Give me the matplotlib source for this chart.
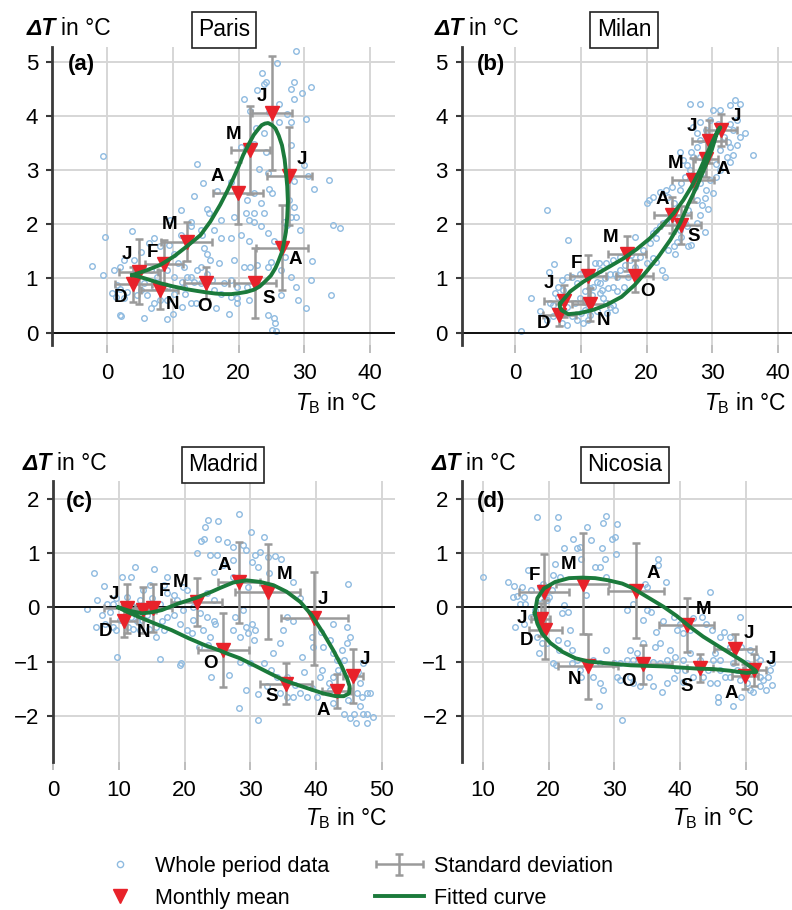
import numpy as np
import matplotlib.pyplot as plt
from matplotlib.lines import Line2D
from matplotlib.container import ErrorbarContainer
from matplotlib.legend_handler import HandlerErrorbar

plt.rcParams['font.family'] = ['Liberation Sans', 'DejaVu Sans']
plt.rcParams['mathtext.fontset'] = 'custom'
plt.rcParams['mathtext.rm'] = 'Liberation Sans'
plt.rcParams['mathtext.it'] = 'Liberation Sans:italic'
plt.rcParams['mathtext.bf'] = 'Liberation Sans:bold'

months = ['J', 'F', 'M', 'A', 'M', 'J', 'J', 'A', 'S', 'O', 'N', 'D']

# ---------------- Paris ----------------
paris_mean_tb = [4.8, 8.7, 12.1, 19.9, 21.8, 25.1, 27.7, 26.6, 22.5, 15.1, 8.0, 4.0]
paris_mean_dt = [1.12, 1.26, 1.68, 2.58, 3.37, 4.05, 2.89, 1.57, 0.91, 0.92, 0.79, 0.89]
paris_sd_tb = [3.0, 2.9, 3.9, 3.8, 3.0, 3.0, 3.4, 4.0, 3.2, 3.4, 2.8, 2.8]
paris_sd_dt = [0.6, 0.45, 0.36, 0.57, 0.82, 1.05, 0.9, 0.78, 0.65, 0.3, 0.36, 0.32]
paris_fit = [(3.8, 1.06), (6.0, 1.15), (8.1, 1.25), (10.2, 1.41), (12.1, 1.59), (14.2, 1.8),
             (15.7, 2.05), (17.2, 2.36), (18.3, 2.62), (19.2, 2.85), (20.0, 3.07), (20.7, 3.28),
             (21.5, 3.47), (22.3, 3.65), (23.0, 3.76), (23.5, 3.83), (24.0, 3.86), (24.5, 3.87),
             (25.1, 3.83), (25.6, 3.77), (26.1, 3.64), (26.6, 3.46), (27.0, 3.2), (27.2, 2.97),
             (27.4, 2.7), (27.5, 2.42), (27.4, 2.14), (27.2, 1.86), (26.9, 1.66), (26.6, 1.49),
             (26.1, 1.33), (25.6, 1.19), (24.9, 1.05), (24.0, 0.94), (23.2, 0.85), (22.3, 0.79),
             (21.2, 0.75), (20.2, 0.73), (18.9, 0.71), (17.7, 0.71), (16.5, 0.72), (15.2, 0.74),
             (13.6, 0.77), (12.1, 0.8), (10.1, 0.85), (8.1, 0.91), (6.0, 0.99), (4.6, 1.04), (3.8, 1.06)]
paris_data = [
    (-0.7, 3.27), (-0.3, 1.77), (-2.3, 1.23), (-0.6, 1.06), (3.7, 1.88), (5.6, 0.26), (1.9, 0.33), (2.1, 0.31),
    (9.1, 0.25), (18.5, 0.34), (28.8, 5.2), (25.9, 4.97), (23.5, 4.8), (23.9, 4.6), (24.1, 4.63), (28.4, 4.63),
    (27.9, 4.5), (28.4, 4.32), (29.7, 4.43), (31.0, 4.53), (22.8, 4.48), (20.8, 4.31), (21.8, 4.1), (26.1, 4.23),
    (24.6, 4.08), (27.4, 4.04), (28.0, 3.89), (30.2, 3.94), (26.1, 3.89), (22.6, 3.77), (23.9, 3.68), (20.3, 3.43),
    (22.3, 3.49), (24.1, 3.34), (27.9, 3.46), (23.1, 3.03), (13.7, 3.12), (14.6, 2.76), (13.2, 2.52), (24.4, 2.94),
    (30.5, 2.9), (31.5, 2.66), (33.8, 2.82), (28.4, 2.8), (16.7, 2.62), (18.8, 2.78), (24.6, 2.66), (21.3, 2.45),
    (22.3, 2.57), (23.4, 2.4), (25.1, 2.57), (28.4, 2.32), (27.6, 2.45), (27.9, 2.14), (28.7, 2.14), (21.1, 2.2),
    (22.3, 2.2), (23.9, 2.2), (21.6, 2.08), (22.3, 2.05), (19.3, 2.14), (17.3, 2.08), (15.5, 2.2), (15.2, 2.29),
    (11.2, 2.26), (12.7, 2.05), (14.2, 1.9), (16.2, 1.9), (18.8, 1.75), (17.3, 1.75), (20.3, 1.81), (21.6, 1.69),
    (23.4, 1.96), (24.4, 1.84), (34.3, 1.99), (35.5, 1.93), (27.4, 1.99), (26.9, 2.05), (25.4, 1.7), (9.6, 2.08),
    (11.2, 1.81), (12.7, 1.96), (14.5, 1.81), (14.7, 1.56), (15.2, 1.46), (15.7, 1.34), (17.0, 1.28), (19.3, 1.34),
    (20.8, 1.22), (21.8, 1.22), (22.8, 1.25), (24.4, 1.22), (24.9, 1.31), (26.4, 1.16), (27.9, 1.03), (31.2, 1.32),
    (31.0, 0.97), (28.7, 0.84), (29.1, 0.6), (30.2, 0.46), (34.0, 0.69), (25.4, 0.26), (25.6, 0.18), (25.1, 0.05),
    (25.7, 0.03), (24.4, 0.32), (21.6, 0.6), (19.8, 0.54), (19.8, 0.63), (18.8, 0.66), (16.2, 0.79), (17.3, 0.72),
    (14.2, 1.22), (13.7, 1.16), (12.7, 1.03), (11.7, 0.85), (11.9, 0.72), (10.2, 0.72), (12.7, 0.54), (11.4, 0.48),
    (9.1, 0.6), (8.1, 0.6), (7.1, 0.54), (6.1, 0.69), (5.1, 0.78), (3.0, 0.75), (1.5, 0.88), (0.8, 0.73),
    (1.3, 0.66), (2.5, 0.63), (1.0, 1.15), (2.0, 1.22), (2.5, 1.34), (4.1, 1.34), (5.1, 1.49), (6.3, 1.65),
    (7.1, 1.74), (8.1, 1.59), (9.4, 1.62), (10.2, 1.46), (10.7, 1.28), (11.7, 1.22), (9.1, 1.16), (7.6, 1.03),
    (6.6, 1.16), (10.2, 1.03), (11.4, 0.94), (12.2, 1.03), (13.2, 0.94), (14.2, 0.91), (15.2, 1.09), (16.0, 0.97),
    (17.8, 0.91), (18.8, 0.97), (19.8, 0.85), (21.3, 0.85), (7.1, 0.85), (5.6, 0.91), (3.6, 0.97), (9.1, 0.85),
    (4.6, 0.7), (2.0, 0.8), (6.6, 0.45), (10.0, 0.35), (13.5, 0.55), (16.5, 0.45), (26.4, 0.7), (27.0, 1.4),
    (29.3, 1.9), (30.0, 3.1)]

# ---------------- Milan ----------------
milan_mean_tb = [7.4, 11.1, 17.0, 23.9, 27.0, 29.5, 31.3, 29.1, 25.2, 18.2, 11.4, 6.7]
milan_mean_dt = [0.58, 1.04, 1.46, 2.17, 2.82, 3.53, 3.74, 3.21, 1.99, 1.04, 0.52, 0.33]
milan_sd_tb = [3.0, 2.8, 2.9, 2.8, 3.2, 2.6, 2.4, 1.8, 3.0, 2.8, 2.7, 2.5]
milan_sd_dt = [0.3, 0.4, 0.32, 0.33, 0.4, 0.4, 0.3, 0.33, 0.35, 0.3, 0.3, 0.2]
milan_fit = [(6.9, 0.54), (8.4, 0.76), (10.4, 0.94), (12.4, 1.08), (14.4, 1.22), (16.5, 1.37), (18.5, 1.54),
             (20.5, 1.74), (22.3, 1.96), (24.1, 2.2), (25.6, 2.45), (26.8, 2.69), (28.1, 3.0), (29.1, 3.28),
             (30.1, 3.55), (30.9, 3.75), (31.2, 3.79), (30.6, 3.65), (29.9, 3.37), (28.9, 3.06), (27.6, 2.69),
             (26.3, 2.36), (25.1, 2.02), (23.6, 1.71), (21.8, 1.4), (20.0, 1.13), (18.2, 0.88), (16.2, 0.66),
             (13.9, 0.51), (11.9, 0.42), (9.9, 0.36), (8.1, 0.34), (7.1, 0.41), (6.8, 0.48), (6.9, 0.54)]
milan_data = [
    (0.9, 0.02), (2.4, 0.63), (4.8, 2.26), (8.0, 1.71), (5.1, 1.11), (5.9, 1.27), (3.8, 0.39), (4.8, 0.23),
    (5.3, 0.54), (6.1, 0.73), (6.6, 0.85), (7.3, 0.79), (7.9, 0.48), (8.6, 0.3), (9.4, 0.23), (10.1, 0.36),
    (10.6, 0.42), (11.1, 0.23), (7.9, 0.14), (7.1, 0.17), (5.8, 0.3), (10.9, 0.54), (11.7, 0.69), (11.9, 0.85),
    (12.4, 0.94), (12.9, 0.91), (13.2, 0.79), (13.4, 0.63), (13.9, 0.54), (14.4, 0.48), (15.2, 0.42), (14.9, 0.51),
    (12.7, 1.28), (12.2, 1.28), (13.7, 1.0), (14.4, 1.09), (15.2, 1.09), (15.5, 1.03), (16.0, 1.16), (16.7, 1.25),
    (17.5, 1.34), (18.2, 1.77), (17.7, 1.43), (19.0, 1.4), (20.0, 1.28), (21.0, 1.37), (21.5, 1.31), (22.3, 1.16),
    (22.8, 1.03), (24.3, 1.46), (23.3, 1.53), (19.5, 1.53), (20.5, 1.65), (21.0, 1.83), (21.5, 1.89), (22.0, 1.96),
    (22.5, 2.02), (20.0, 2.39), (20.3, 2.45), (21.0, 2.51), (22.0, 2.6), (23.0, 2.63), (23.8, 2.69), (23.3, 2.51),
    (24.1, 2.39), (25.1, 2.63), (25.3, 2.76), (25.8, 2.88), (26.6, 3.0), (27.1, 3.25), (26.8, 3.34), (27.6, 3.43),
    (28.1, 3.25), (28.6, 2.94), (29.1, 2.63), (28.9, 2.48), (28.4, 2.36), (27.6, 2.45), (26.3, 2.26), (26.1, 1.96),
    (26.8, 1.62), (25.3, 1.77), (24.6, 1.68), (28.9, 1.86), (28.1, 2.17), (29.4, 2.29), (30.1, 2.57), (29.6, 2.82),
    (30.6, 2.88), (31.2, 3.0), (32.2, 3.25), (33.2, 3.28), (32.7, 3.43), (33.7, 3.46), (34.2, 3.62), (34.9, 3.68),
    (36.2, 3.28), (33.2, 3.74), (32.7, 3.86), (33.7, 3.92), (33.4, 4.29), (34.2, 4.23), (32.7, 4.2), (31.2, 4.11),
    (30.1, 4.11), (28.1, 4.23), (26.6, 4.23), (27.1, 3.8), (27.6, 3.68), (28.1, 3.55), (29.1, 3.74), (30.1, 3.55),
    (31.7, 3.62), (32.4, 3.52), (25.1, 3.34), (25.6, 3.19), (26.1, 3.09), (28.1, 3.89), (29.6, 3.92), (30.9, 3.86),
    (31.2, 3.38), (32.7, 3.15), (30.6, 3.12), (28.1, 2.76), (27.4, 2.69), (24.1, 2.11), (23.0, 2.05), (21.5, 1.74),
    (24.1, 1.59), (25.1, 1.89), (25.8, 2.02), (27.6, 2.02), (26.3, 1.59), (9.4, 0.91), (9.9, 1.09), (8.6, 1.03),
    (7.9, 1.03), (7.1, 0.97), (6.6, 0.66), (5.8, 0.51), (6.8, 0.42), (7.6, 0.6), (9.1, 0.54), (9.9, 0.63),
    (10.6, 0.76), (11.4, 0.82), (12.9, 0.73), (14.1, 0.82), (14.9, 0.85), (15.5, 0.76), (12.9, 1.16), (13.9, 1.28),
    (14.9, 1.34), (16.0, 1.4), (18.2, 1.22), (18.5, 1.03), (17.2, 1.03), (16.5, 0.85), (10.4, 0.17), (11.4, 0.33),
    (12.4, 0.39), (14.0, 0.36)]

# ---------------- Madrid ----------------
madrid_mean_tb = [11.2, 15.2, 21.8, 28.2, 32.6, 39.7, 45.6, 43.1, 35.4, 25.9, 13.7, 10.7]
madrid_mean_dt = [-0.02, -0.01, 0.1, 0.46, 0.29, -0.2, -1.27, -1.54, -1.41, -0.79, -0.05, -0.25]
madrid_sd_tb = [3.5, 2.8, 3.9, 3.2, 4.9, 5.1, 1.5, 2.2, 4.0, 3.9, 2.0, 2.0]
madrid_sd_dt = [0.45, 0.45, 0.45, 0.74, 0.88, 0.86, 0.5, 0.31, 0.38, 0.68, 0.42, 0.3]
madrid_fit = [(9.9, 0.0), (11.5, -0.06), (13.5, -0.11), (15.0, -0.09), (16.5, -0.05), (19.0, 0.07),
              (21.6, 0.17), (24.1, 0.29), (25.4, 0.36), (27.4, 0.46), (29.4, 0.5), (31.5, 0.47), (33.5, 0.41),
              (35.5, 0.29), (37.6, 0.1), (39.3, -0.14), (41.1, -0.48), (42.6, -0.79), (43.9, -1.09),
              (44.7, -1.31), (45.1, -1.46), (45.0, -1.59), (44.2, -1.64), (43.0, -1.64), (41.1, -1.59),
              (39.1, -1.51), (37.1, -1.43), (35.0, -1.34), (33.0, -1.22), (30.9, -1.09), (28.4, -0.94),
              (26.4, -0.85), (25.4, -0.8), (23.1, -0.7), (20.6, -0.57), (18.0, -0.42), (15.5, -0.3),
              (12.9, -0.17), (11.0, -0.07), (9.9, 0.0)]
madrid_data = [
    (5.2, -0.03), (6.2, 0.63), (6.6, 0.14), (6.5, -0.37), (7.7, 0.39), (9.7, -0.91), (10.4, 0.57), (11.8, 0.57),
    (12.4, 0.74), (15.3, 0.7), (14.7, 0.41), (17.3, 0.57), (16.8, 0.41), (16.2, -0.96), (19.3, -1.06), (19.5, -1.03),
    (18.3, 0.22), (18.8, 0.14), (23.1, 1.48), (23.6, 1.61), (22.5, 1.23), (22.9, 1.27), (25.0, 1.6), (25.0, 1.27),
    (26.4, 1.21), (23.8, 0.97), (24.9, 0.97), (27.3, 1.11), (28.3, 1.72), (30.1, 1.4), (28.8, 1.15), (29.4, 1.06),
    (30.2, 0.84), (30.7, 0.97), (31.5, 1.03), (31.2, 0.75), (32.0, 1.3), (32.7, 0.93), (33.8, 0.95), (34.7, 0.9),
    (32.9, 0.63), (27.4, 0.87), (25.9, 0.78), (24.5, 0.66), (27.4, 0.57), (29.7, 0.38), (21.8, 1.0), (22.3, -0.11),
    (23.4, -0.17), (24.4, -0.26), (22.8, -0.42), (23.8, -0.54), (24.6, -0.3), (22.1, -0.73), (23.6, -0.7),
    (24.0, -1.28), (26.8, -1.25), (27.4, -0.42), (28.4, -0.54), (29.4, -0.36), (30.7, -0.42), (29.7, -0.48),
    (30.5, -0.6), (27.7, -0.17), (28.9, -0.05), (30.2, -0.3), (28.4, -1.0), (29.9, -1.03), (32.0, -1.03),
    (33.2, -1.16), (34.0, -1.28), (32.5, -1.46), (31.1, -1.6), (29.4, -1.53), (28.3, -1.85), (31.1, -2.08),
    (35.5, -1.28), (36.8, -1.43), (37.6, -1.59), (38.6, -1.65), (36.5, -1.65), (35.5, -1.65), (34.5, -1.59),
    (38.1, -1.19), (37.8, -0.91), (39.5, -0.73), (39.3, -0.54), (40.8, -0.45), (40.6, -1.28), (40.9, -1.16),
    (41.9, -1.4), (42.1, -1.53), (42.6, -1.28), (43.3, -1.16), (43.9, -0.79), (44.7, -0.66), (44.2, -0.97),
    (44.7, -0.36), (45.2, -0.54), (44.8, 0.43), (45.7, -1.28), (46.7, -1.4), (46.2, -1.59), (47.0, -1.65),
    (47.7, -1.59), (48.2, -1.59), (46.7, -1.83), (47.2, -1.96), (47.7, -1.96), (48.7, -2.02), (45.7, -1.96),
    (45.2, -2.05), (46.0, -2.14), (47.7, -2.14), (44.2, -1.96), (44.8, -1.71), (42.6, -1.77), (40.1, -1.65),
    (39.3, -1.49), (41.1, -0.73), (42.1, -0.6), (42.6, -0.85), (43.1, -0.97), (36.5, -0.26), (37.6, 0.17),
    (36.5, 0.47), (35.5, -0.17), (35.0, -0.42), (34.5, -0.66), (33.5, -0.85), (42.6, -0.3), (46.4, -1.19),
    (47.2, -1.03), (8.6, -0.08), (9.1, 0.07), (9.6, 0.17), (11.2, 0.2), (11.9, 0.07), (12.7, 0.01), (11.9, -0.17),
    (11.4, -0.36), (12.2, -0.39), (12.7, -0.26), (13.2, -0.42), (13.5, -0.23), (14.2, -0.14), (14.5, -0.39),
    (15.7, -0.36), (16.5, -0.26), (17.3, -0.17), (16.8, -0.42), (15.7, -0.54), (18.3, -0.14), (19.3, -0.3),
    (20.3, -0.42), (21.3, -0.23), (21.1, -0.48), (19.8, 0.38), (20.3, 0.32), (17.3, 0.26), (16.2, 0.07),
    (15.0, 0.17), (13.7, 0.32), (13.2, 0.14), (10.7, 0.07), (10.2, -0.23), (9.1, -0.36), (9.6, -0.42),
    (7.9, -0.3), (7.4, -0.14), (8.1, 0.07), (22.3, 0.2), (23.4, 0.26), (24.4, 0.14), (21.3, 0.01), (19.8, -0.05)]

# ---------------- Nicosia ----------------
nicosia_mean_tb = [18.8, 19.3, 25.2, 33.3, 41.0, 48.3, 51.3, 49.9, 43.0, 34.3, 26.0, 19.5]
nicosia_mean_dt = [-0.22, 0.29, 0.44, 0.31, -0.32, -0.77, -1.16, -1.27, -1.12, -1.05, -1.09, -0.41]
nicosia_sd_tb = [1.4, 3.8, 4.0, 4.2, 4.2, 3.2, 1.8, 2.0, 2.0, 4.5, 4.6, 2.5]
nicosia_sd_dt = [0.3, 0.7, 0.93, 0.88, 0.5, 0.27, 0.3, 0.23, 0.25, 0.36, 0.6, 0.55]
nicosia_fit = [(17.9, -0.11), (18.3, 0.17), (19.3, 0.35), (21.0, 0.47), (23.1, 0.54), (25.1, 0.55),
               (27.1, 0.54), (29.1, 0.5), (31.2, 0.44), (32.7, 0.36), (34.9, 0.2), (37.5, 0.01),
               (39.5, -0.16), (41.5, -0.36), (43.5, -0.54), (45.6, -0.7), (47.6, -0.85), (49.6, -1.0),
               (51.4, -1.16), (51.6, -1.19), (50.1, -1.21), (47.6, -1.17), (45.1, -1.14), (42.5, -1.13),
               (40.0, -1.11), (37.5, -1.09), (35.0, -1.08), (32.5, -1.07), (28.6, -1.03), (26.1, -1.0),
               (24.1, -0.94), (22.1, -0.82), (20.3, -0.66), (19.0, -0.48), (18.3, -0.3), (17.9, -0.11)]
nicosia_data = [
    (10.1, 0.57), (13.8, 0.47), (14.7, 0.39), (14.6, 0.2), (15.2, 0.21), (15.9, 0.38), (16.9, 0.69), (15.7, 0.07),
    (16.4, 0.06), (14.9, -0.36), (16.2, -0.3), (18.2, 1.67), (21.5, 1.67), (21.3, 1.46), (21.0, 0.81), (22.3, 1.09),
    (20.7, 0.6), (21.7, 0.57), (23.7, 1.27), (24.3, 1.09), (24.8, 1.11), (25.9, 1.48), (24.9, 0.9), (26.4, 1.25),
    (27.0, 0.75), (28.1, 1.09), (28.3, 1.55), (28.8, 1.69), (29.6, 1.27), (30.1, 1.3), (30.4, 1.54), (30.3, 0.98),
    (28.6, 0.9), (27.8, 0.75), (28.8, 0.57), (25.7, 0.23), (22.3, 0.04), (23.0, -0.08), (23.2, -0.42), (22.0, -0.11),
    (21.5, -0.6), (20.7, -1.03), (21.2, -1.06), (19.7, 0.14), (20.5, 0.32), (19.2, 0.44), (19.7, -0.66), (18.5, -0.85),
    (19.0, -0.66), (18.2, -0.54), (21.6, -0.79), (22.8, -0.66), (23.5, -0.79), (24.8, -1.16), (25.0, -1.28),
    (27.6, -1.83), (28.3, -1.53), (31.1, -2.08), (30.9, -1.03), (31.9, -0.97), (32.9, -0.97), (30.4, -1.28),
    (30.9, -1.34), (32.4, -1.28), (32.9, -1.4), (33.9, -1.46), (35.2, -1.28), (35.9, -1.46), (37.2, -1.56),
    (38.0, -1.4), (39.5, -1.16), (39.0, -1.31), (36.9, -1.03), (35.9, -1.0), (38.0, -0.97), (39.2, -0.91),
    (40.5, -0.97), (40.7, -1.16), (42.0, -1.28), (40.5, -1.37), (43.0, -0.97), (45.0, -0.97), (45.3, -0.85),
    (46.1, -1.16), (46.8, -1.28), (45.6, -1.4), (45.8, -1.65), (45.8, -1.74), (48.1, -1.83), (49.3, -1.65),
    (50.6, -1.53), (51.1, -1.56), (52.1, -1.46), (53.1, -1.53), (52.6, -1.34), (53.4, -1.28), (53.9, -1.43),
    (53.6, -1.16), (53.9, -1.03), (52.1, -0.97), (51.6, -0.91), (50.6, -0.79), (49.3, -0.73), (49.1, -0.17),
    (47.6, -0.54), (46.6, -0.45), (46.1, -0.54), (44.8, -0.42), (44.0, -0.3), (44.5, 0.29), (43.3, -0.17),
    (42.0, -0.2), (41.5, -0.42), (40.5, -0.48), (39.5, -0.42), (40.0, -0.3), (39.0, -0.17), (37.4, -0.26),
    (36.4, -0.45), (37.9, 0.47), (36.7, 0.9), (36.7, 0.78), (35.0, 0.38), (34.7, 0.44), (35.0, -0.05),
    (35.5, -0.08), (34.4, -0.23), (36.2, -0.73), (37.0, -0.66), (32.9, 0.07), (31.9, -0.05), (32.4, -0.79),
    (34.4, -0.66), (33.4, -0.85), (28.8, -0.79), (27.8, -1.03), (26.8, -0.97), (24.3, -0.97), (23.5, -1.03),
    (26.8, -1.28), (27.8, -1.4), (29.9, -1.03), (38.5, -0.79), (41.5, -0.85), (47.6, -0.73), (48.1, -1.03),
    (50.1, -1.03), (51.1, -1.16), (52.1, -1.28), (50.1, -1.4), (49.1, -1.34), (47.6, -1.28), (48.6, -1.16),
    (44.3, -1.16), (43.5, -1.28), (44.5, -1.4), (46.1, -0.97), (17.9, -0.05), (17.4, -0.17), (18.7, 0.17),
    (20.0, 0.2), (17.4, 0.32), (18.7, 0.38), (16.2, 0.2)]

# label offsets (pixels) of the month letters around each triangle
paris_lbl = [(-12, 17), (-12, 12), (-17, 17), (-21, 16), (-17, 16), (-10, 17), (13, 17), (13, -12),
             (14, -15), (-2, -24), (13, -15), (-13, -13)]
milan_lbl = [(-15, 18), (-12, 13), (-16, 16), (-10, 16), (-17, 16), (-17, 15), (15, 14), (17, -11),
             (13, -12), (13, -15), (13, -16), (-16, -9)]
madrid_lbl = [(-13, 14), (11, 16), (-16, 19), (-14, 17), (17, 17), (9, 19), (12, 17), (-13, -20),
              (-14, -13), (-13, -13), (0, -22), (-18, -11)]
nicosia_lbl = [(-19, 1), (-10, 16), (-14, 19), (17, 17), (17, 15), (14, 16), (16, 11), (-14, -17),
               (-13, -18), (-14, -17), (-14, -13), (-19, -11)]

C_DATA = '#8fbbe0'
C_RED = '#e8222a'
C_GREEN = '#1b7a3b'
C_GRAY = '#9a9a9a'

W, H = 792, 910
fig = plt.figure(figsize=(W / 100, H / 100), dpi=100)


def add_ax(l, t, r, b):
    return fig.add_axes([l / W, 1 - b / H, (r - l) / W, (b - t) / H])


def panel(ax, data, mtb, mdt, stb, sdt, fit, lbl, xlim, ylim, xticks, yticks, letter, loff):
    data = np.array(data)
    fit = np.array(fit)
    ax.set_xlim(*xlim)
    ax.set_ylim(*ylim)
    ax.set_xticks(xticks)
    ax.set_yticks(yticks)
    ax.grid(True, color='#d6d6d6', lw=1.4, zorder=0)
    ax.set_axisbelow(True)
    for s in ['top', 'right', 'bottom']:
        ax.spines[s].set_visible(False)
    ax.spines['left'].set_color('#3a3a3a')
    ax.spines['left'].set_linewidth(2)
    ax.tick_params(axis='x', length=6, width=1.4, color='#bdbdbd', pad=7, labelsize=16)
    ax.tick_params(axis='y', length=4, width=1.5, color='#3a3a3a', pad=6, labelsize=16)
    ax.axhline(0, color='black', lw=1.3, zorder=2)
    ax.plot(data[:, 0], data[:, 1], 'o', ls='none', mfc='none', mec=C_DATA, mew=1.0, ms=4, zorder=1.5)
    ax.errorbar(mtb, mdt, xerr=stb, yerr=sdt, fmt='none', ecolor=C_GRAY, elinewidth=1.8,
                capsize=3, capthick=1.8, zorder=3)
    ax.plot(mtb, mdt, 'v', ls='none', color=C_RED, ms=10, zorder=4)
    ax.plot(fit[:, 0], fit[:, 1], color=C_GREEN, lw=2.8, zorder=5, solid_joinstyle='round')
    for m, x, y, off in zip(months, mtb, mdt, lbl):
        ax.annotate(m, (x, y), xytext=off, textcoords='offset pixels', ha='center', va='center',
                    fontsize=13.5, fontweight='bold', zorder=6)
    ax.annotate(letter, (0, 1), xycoords='axes fraction', xytext=loff, textcoords='offset pixels',
                ha='left', va='center', fontsize=16, fontweight='bold')


axa = add_ax(52, 46.7, 395, 345)
axb = add_ax(461.7, 46.7, 792, 345)
axc = add_ax(53.3, 480.7, 395, 761.7)
axd = add_ax(461.7, 480.7, 792, 761.7)

panel(axa, paris_data, paris_mean_tb, paris_mean_dt, paris_sd_tb, paris_sd_dt, paris_fit, paris_lbl,
      (-8.4, 43.8), (-0.23, 5.28), [0, 10, 20, 30, 40], [0, 1, 2, 3, 4, 5], '(a)', (16, -18))
panel(axb, milan_data, milan_mean_tb, milan_mean_dt, milan_sd_tb, milan_sd_dt, milan_fit, milan_lbl,
      (-8.1, 42.1), (-0.23, 5.28), [0, 10, 20, 30, 40], [0, 1, 2, 3, 4, 5], '(b)', (15, -18))
panel(axc, madrid_data, madrid_mean_tb, madrid_mean_dt, madrid_sd_tb, madrid_sd_dt, madrid_fit, madrid_lbl,
      (0, 52), (-2.85, 2.34), [0, 10, 20, 30, 40, 50], [-2, -1, 0, 1, 2], '(c)', (13, -21))
panel(axd, nicosia_data, nicosia_mean_tb, nicosia_mean_dt, nicosia_sd_tb, nicosia_sd_dt, nicosia_fit,
      nicosia_lbl, (6.8, 57.0), (-2.85, 2.34), [10, 20, 30, 40, 50], [-2, -1, 0, 1, 2], '(d)', (15, -21))

# axis titles and city boxes
for ax, xl, yb, city, cx, cy, xr, xb in [
        (axa, 27, 35, 'Paris', 224, 30, 378, 410),
        (axb, 435, 35, 'Milan', 624, 30, 787, 410),
        (axc, 23, 470, 'Madrid', 223, 465, 388, 825),
        (axd, 432, 470, 'Nicosia', 625, 465, 755, 825)]:
    t1 = fig.text(xl / W, 1 - yb / H, 'ΔT', fontsize=16.5, fontweight='bold', style='italic',
                  ha='left', va='baseline')
    ax.annotate('in °C', xy=(1, 0), xycoords=t1, xytext=(5, 0), textcoords='offset pixels',
                ha='left', va='bottom', fontsize=16.5, annotation_clip=False)
    fig.text(cx / W, 1 - cy / H, city, fontsize=16.5, ha='center', va='center',
             bbox=dict(boxstyle='square,pad=0.28', fc='white', ec='#222222', lw=1.2))
    fig.text(xr / W, 1 - xb / H, r'$T_\mathrm{B}$ in °C', fontsize=16.5, ha='right', va='baseline')

# legend
h_data = Line2D([], [], marker='o', ls='none', mfc='none', mec=C_DATA, mew=1.0, ms=4.5)
h_mean = Line2D([], [], marker='v', ls='none', color=C_RED, ms=10)
h_sd = axa.errorbar([np.nan], [np.nan], xerr=[1], yerr=[1], fmt='none', ecolor=C_GRAY,
                    elinewidth=1.8, capsize=3, capthick=1.8)
h_fit = Line2D([], [], color=C_GREEN, lw=2.8)
fig.legend([h_data, h_mean, h_sd, h_fit],
           ['Whole period data', 'Monthly mean', 'Standard deviation', 'Fitted curve'],
           handler_map={ErrorbarContainer: HandlerErrorbar(xerr_size=1.1, yerr_size=0.5)},
           ncol=2, loc='upper left', bbox_to_anchor=(95.5 / W, 1 - 856 / H), frameon=False,
           fontsize=15.5, handlelength=2.3, handletextpad=0.47, columnspacing=2.1,
           labelspacing=0.5, borderpad=0, borderaxespad=0)

fig.savefig('out.png', dpi=100)
